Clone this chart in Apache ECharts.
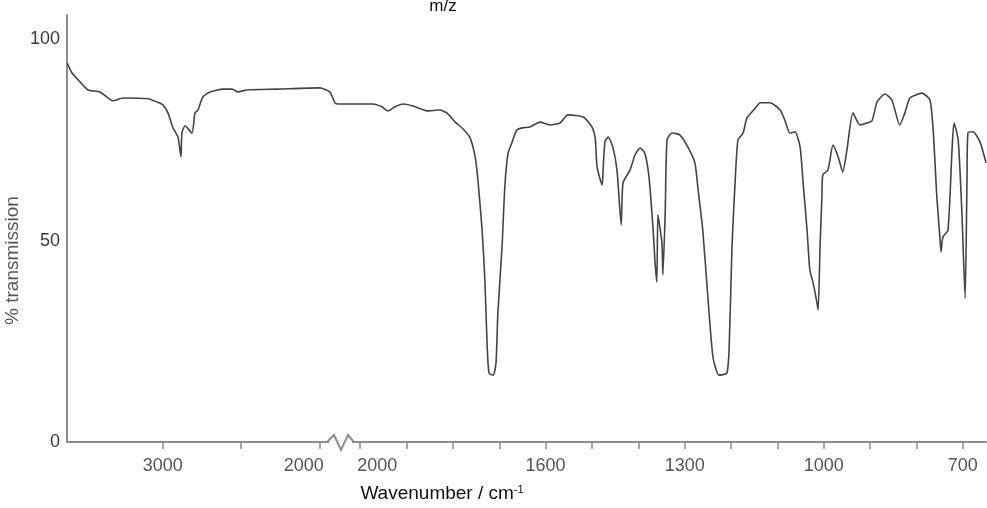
<!DOCTYPE html>
<html>
<head>
<meta charset="utf-8">
<script src="https://cdn.jsdelivr.net/npm/echarts@6/dist/echarts.min.js"></script>
<style>
  html, body { margin: 0; padding: 0; background: #fff; }
  #container { width: 987px; height: 508px; }
</style>
</head>
<body>
<div id="container"></div>
<script>
// IR spectrum, broken wavenumber axis: [wavenumber, % transmission]
var highRange = [
  [3610, 94.1], [3578, 91.6], [3527, 89.4], [3476, 87.4], [3400, 86.9],
  [3317, 84.7], [3253, 85.4], [3094, 85.2], [3037, 84.4], [2999, 83.7],
  [2967, 81.7], [2935, 78.0], [2903, 75.7], [2884, 70.8], [2878, 76.7],
  [2858, 78.5], [2814, 76.7], [2795, 81.7], [2776, 82.4], [2744, 85.7],
  [2699, 86.9], [2616, 87.6], [2559, 87.6], [2521, 86.9], [2464, 87.4],
  [2273, 87.6], [1999, 87.9], [1936, 86.9], [1903, 84.2], [1890, 83.9]
];
var lowRange = [
  [2050, 83.9], [1972, 83.9], [1953, 83.2], [1940, 82.2], [1925, 83.2],
  [1908, 83.9], [1886, 83.4], [1856, 82.2], [1828, 82.4], [1813, 81.7],
  [1795, 79.4], [1778, 77.7], [1763, 75.5], [1752, 70.8], [1746, 65.0],
  [1737, 52.6], [1731, 40.2], [1726, 23.6], [1722, 17.1], [1713, 16.6],
  [1707, 19.6], [1703, 32.0], [1694, 48.4], [1688, 63.3], [1681, 71.7],
  [1673, 74.2], [1662, 77.5], [1649, 78.0], [1634, 78.2], [1612, 79.4],
  [1591, 78.7], [1569, 79.2], [1552, 81.2], [1519, 80.7], [1500, 78.2],
  [1493, 75.5], [1489, 68.3], [1478, 63.8], [1476, 67.5], [1472, 74.5],
  [1465, 75.7], [1455, 73.2], [1446, 67.5], [1437, 53.9], [1433, 64.3],
  [1418, 67.5], [1407, 71.3], [1396, 73.0], [1386, 71.7], [1377, 65.8],
  [1368, 52.6], [1364, 44.7], [1360, 39.7], [1358, 56.4], [1355, 54.4],
  [1349, 49.4], [1347, 41.5], [1342, 56.9], [1338, 75.0], [1327, 76.7],
  [1310, 76.2], [1293, 73.2], [1278, 69.3], [1271, 62.6], [1261, 52.6],
  [1250, 36.0], [1239, 21.1], [1226, 16.6], [1209, 17.1], [1204, 23.6],
  [1198, 48.4], [1191, 65.0], [1185, 75.0], [1174, 76.7], [1166, 80.4],
  [1155, 81.9], [1142, 83.7], [1138, 84.2], [1116, 84.2], [1094, 82.4],
  [1084, 79.9], [1073, 76.7], [1062, 77.0], [1051, 73.2], [1045, 65.0],
  [1036, 52.6], [1030, 42.7], [1023, 39.5], [1015, 34.8], [1012, 32.8],
  [1008, 48.4], [1004, 60.8], [1002, 66.3], [991, 67.5], [980, 73.7],
  [969, 70.8], [959, 67.0], [950, 72.5], [937, 81.7], [922, 78.7],
  [907, 79.2], [896, 79.7], [885, 84.4], [868, 86.4], [853, 84.9],
  [836, 78.7], [825, 81.7], [814, 85.4], [788, 86.6], [771, 84.9],
  [764, 77.5], [756, 60.8], [749, 50.1], [747, 47.2], [743, 50.9],
  [732, 52.6], [723, 73.2], [719, 79.2], [710, 75.0], [702, 56.9],
  [695, 35.7], [691, 65.0], [689, 76.7], [678, 77.0], [663, 74.5],
  [650, 69.3]
];

var highTicks = [3000, 2500, 2000];
var highLabels = [3000, 2000];
var lowTicks = [2000, 1900, 1800, 1700, 1600, 1500, 1400, 1300, 1200, 1100, 1000, 900, 800, 700];
var lowLabels = [2000, 1600, 1300, 1000, 700];
var yLabels = [0, 50, 100];

var chart = echarts.init(document.getElementById('container'), null, { renderer: 'canvas' });

var axisGray = '#8c8c8c';
var textColor = '#3a3a3a';
var fontFamily = 'Liberation Sans, Arial, sans-serif';

function plain(v) {
  return String(v);
}

// labels next to the break are pushed away from it a little
function xAxisFor(gridIndex, min, max, ticks, labels, breakStyle) {
  return {
    type: 'value',
    gridIndex: gridIndex,
    inverse: true,
    min: min,
    max: max,
    axisLine: { show: true, lineStyle: { color: axisGray, width: 2 } },
    axisTick: { show: true, length: 7, customValues: ticks, lineStyle: { color: axisGray, width: 1.5 } },
    axisLabel: {
      customValues: labels, margin: 15, color: '#555',
      fontSize: 18, fontFamily: fontFamily,
      formatter: function (v) {
        return v === 2000 ? '{' + breakStyle + '|' + v + '}' : String(v);
      },
      rich: {
        toLeft: { fontSize: 18, color: '#555', fontFamily: fontFamily, padding: [0, 32, 0, 0] },
        toRight: { fontSize: 18, color: '#555', fontFamily: fontFamily, padding: [0, 0, 0, 34] }
      }
    },
    splitLine: { show: false }
  };
}

var option = {
  backgroundColor: '#fff',
  animation: false,
  grid: [
    { left: 67, top: 15, width: 270, bottom: 66 },
    { left: 337, top: 15, right: 1, bottom: 66 }
  ],
  xAxis: [
    xAxisFor(0, 1890, 3610, highTicks, highLabels, 'toLeft'),
    xAxisFor(1, 650, 2050, lowTicks, lowLabels, 'toRight')
  ],
  yAxis: [
    {
      type: 'value', gridIndex: 0, min: 0, max: 106,
      axisLine: { show: true, onZero: false, lineStyle: { color: axisGray, width: 2 } },
      axisTick: { show: false },
      axisLabel: { customValues: yLabels, margin: 7, color: textColor, fontSize: 18, fontFamily: fontFamily, formatter: plain },
      splitLine: { show: false },
      name: '% transmission',
      nameLocation: 'middle',
      nameGap: 45,
      nameTextStyle: { color: '#555', fontSize: 19, fontFamily: fontFamily, padding: [0, 64, 0, 0] }
    },
    { type: 'value', gridIndex: 1, min: 0, max: 106, show: false }
  ],
  series: [
    {
      type: 'line', xAxisIndex: 0, yAxisIndex: 0, data: highRange,
      showSymbol: false, smooth: 0.2,
      lineStyle: { color: '#444', width: 1.6 }
    },
    {
      type: 'line', xAxisIndex: 1, yAxisIndex: 1, data: lowRange,
      showSymbol: false, smooth: 0.2,
      lineStyle: { color: '#444', width: 1.6 }
    }
  ],
  graphic: [
    // axis break marker
    { type: 'rect', z: 100, shape: { x: 329, y: 438, width: 23, height: 8 }, style: { fill: '#fff' } },
    {
      type: 'polyline', z: 101,
      shape: { points: [[327, 442], [334, 435], [341, 450], [348, 435], [354, 442]] },
      style: { stroke: axisGray, lineWidth: 2, fill: null }
    },
    {
      type: 'text', z: 101, x: 442, y: 494,
      style: {
        text: 'Wavenumber / cm{sup|-1}',
        align: 'center', verticalAlign: 'middle',
        fill: '#111', fontSize: 19, fontFamily: fontFamily,
        rich: { sup: { fontSize: 11, fill: '#111', padding: [0, 0, 9, 0], fontFamily: fontFamily } }
      }
    },
    {
      type: 'text', z: 101, x: 443, y: 6,
      style: {
        text: 'm/z',
        align: 'center', verticalAlign: 'middle',
        fill: '#111', fontSize: 17, fontFamily: fontFamily
      }
    }
  ]
};

chart.setOption(option);
</script>
</body>
</html>
